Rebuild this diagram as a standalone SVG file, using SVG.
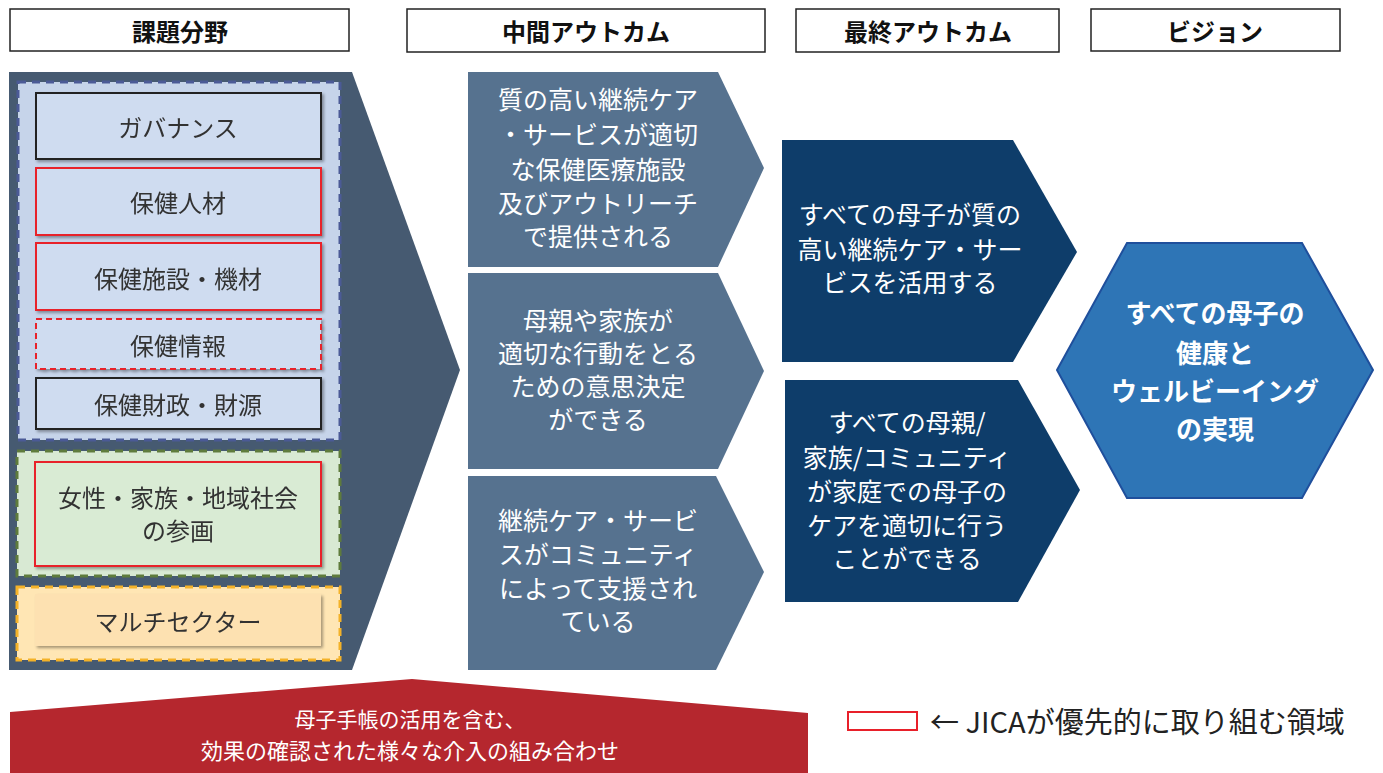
<svg xmlns="http://www.w3.org/2000/svg" width="1383" height="773" viewBox="0 0 1383 773">
<defs>
<style>
text{font-family:"Noto Sans CJK JP","Noto Sans",sans-serif;text-anchor:middle;dominant-baseline:central}
.hdr{fill:#fff;stroke:#222;stroke-width:1.5}
.hdrt{font-size:24px;font-weight:bold;fill:#111}
.lb{font-size:24px;fill:#333}
.wt{font-size:25px;fill:#fff}
.vt{font-size:26px;fill:#fff;font-weight:bold}
.mid{fill:#56728f}
.fin{fill:#0e3d6a}
.box{fill:#cfdcf0;stroke-width:2}
</style>
<filter id="sh" x="-5%" y="-5%" width="115%" height="125%">
<feDropShadow dx="2" dy="2" stdDeviation="1.5" flood-color="#000" flood-opacity="0.35"/>
</filter>
</defs>

<g id="headers">
<rect class="hdr" x="10" y="9" width="339" height="42"/>
<text class="hdrt" x="180" y="30">課題分野</text>
<rect class="hdr" x="407" y="9" width="358" height="43"/>
<text class="hdrt" x="586" y="30">中間アウトカム</text>
<rect class="hdr" x="796" y="9" width="263" height="43"/>
<text class="hdrt" x="928" y="30">最終アウトカム</text>
<rect class="hdr" x="1091" y="9" width="249" height="42"/>
<text class="hdrt" x="1215" y="30">ビジョン</text>
</g>

<g id="left-panel">
<polygon points="9,72 352,72 460,370 352,670 9,670" fill="#465a71"/>
<rect x="18" y="82" width="322" height="358" fill="#c6d4ea" stroke="#4b5a96" stroke-width="3" stroke-dasharray="8,6"/>
<rect x="17" y="451" width="323" height="125" fill="#d8e9d3" stroke="#5e7b3c" stroke-width="3" stroke-dasharray="8,6"/>
<rect x="17" y="587" width="323" height="73" fill="#ffe6b4" stroke="#f4b228" stroke-width="3" stroke-dasharray="8,6"/>
</g>

<g id="governance" filter="url(#sh)">
<rect class="box" x="36" y="93" width="285" height="66" stroke="#222"/>
<text class="lb" x="178" y="126">ガバナンス</text>
</g>
<g id="hr" filter="url(#sh)">
<rect class="box" x="36" y="168" width="285" height="67" stroke="#e8202a"/>
<text class="lb" x="178" y="201">保健人材</text>
</g>
<g id="facilities" filter="url(#sh)">
<rect class="box" x="36" y="243" width="285" height="67" stroke="#e8202a"/>
<text class="lb" x="178" y="277">保健施設・機材</text>
</g>
<g id="info" filter="url(#sh)">
<rect class="box" x="36" y="319" width="285" height="50" stroke="#e8202a" stroke-dasharray="6,4"/>
<text class="lb" x="178" y="344">保健情報</text>
</g>
<g id="finance" filter="url(#sh)">
<rect class="box" x="36" y="378" width="285" height="51" stroke="#222"/>
<text class="lb" x="178" y="403">保健財政・財源</text>
</g>
<g id="community" filter="url(#sh)">
<rect x="35" y="462" width="286" height="104" fill="#d9ebd4" stroke="#e8202a" stroke-width="2"/>
<text class="lb" x="178" y="496">女性・家族・地域社会</text>
<text class="lb" x="178" y="529">の参画</text>
</g>
<g id="multisector" filter="url(#sh)">
<rect x="35" y="594" width="286" height="52" fill="#fde1b1"/>
<text class="lb" x="178" y="620">マルチセクター</text>
</g>

<g id="mid1">
<polygon class="mid" points="468,72 718,72 764,168 718,267 468,267"/>
<text class="wt" x="598" y="98">質の高い継続ケア</text>
<text class="wt" x="598" y="133">・サービスが適切</text>
<text class="wt" x="598" y="168">な保健医療施設</text>
<text class="wt" x="598" y="202">及びアウトリーチ</text>
<text class="wt" x="598" y="235">で提供される</text>
</g>
<g id="mid2">
<polygon class="mid" points="468,273 718,273 764,371 718,469 468,469"/>
<text class="wt" x="598" y="319">母親や家族が</text>
<text class="wt" x="598" y="352">適切な行動をとる</text>
<text class="wt" x="598" y="385">ための意思決定</text>
<text class="wt" x="598" y="418">ができる</text>
</g>
<g id="mid3">
<polygon class="mid" points="468,476 716,476 764,572 716,670 468,670"/>
<text class="wt" x="598" y="519">継続ケア・サービ</text>
<text class="wt" x="598" y="553">スがコミュニティ</text>
<text class="wt" x="598" y="587">によって支援され</text>
<text class="wt" x="598" y="620">ている</text>
</g>

<g id="final1">
<polygon class="fin" points="782,140 1013,140 1077,252 1013,362 782,362"/>
<text class="wt" x="910" y="213">すべての母子が質の</text>
<text class="wt" x="910" y="248">高い継続ケア・サー</text>
<text class="wt" x="910" y="281">ビスを活用する</text>
</g>
<g id="final2">
<polygon class="fin" points="785,380 1018,380 1080,490 1018,602 785,602"/>
<text class="wt" x="907" y="421">すべての母親/</text>
<text class="wt" x="907" y="456">家族/コミュニティ</text>
<text class="wt" x="907" y="490">が家庭での母子の</text>
<text class="wt" x="907" y="524">ケアを適切に行う</text>
<text class="wt" x="907" y="557">ことができる</text>
</g>

<g id="vision">
<polygon points="1127,243 1302,243 1373,370 1302,498 1127,498 1057,370" fill="#2e75b6" stroke="#1f4f9c" stroke-width="2"/>
<text class="vt" x="1215" y="311">すべての母子の</text>
<text class="vt" x="1215" y="351">健康と</text>
<text class="vt" x="1215" y="389">ウェルビーイング</text>
<text class="vt" x="1215" y="427">の実現</text>
</g>

<g id="interventions">
<polygon points="10,712 412,679 808,713 808,773 10,773" fill="#b5272e"/>
<text x="410" y="718" font-size="21" fill="#fff">母子手帳の活用を含む、</text>
<text x="410" y="749" font-size="22" fill="#fff">効果の確認された様々な介入の組み合わせ</text>
</g>

<g id="legend">
<rect x="848" y="712" width="69" height="18" fill="#fff" stroke="#e8202a" stroke-width="2"/>
<text x="930" y="720" font-size="29" fill="#222" style="text-anchor:start">← JICAが優先的に取り組む領域</text>
</g>
</svg>
